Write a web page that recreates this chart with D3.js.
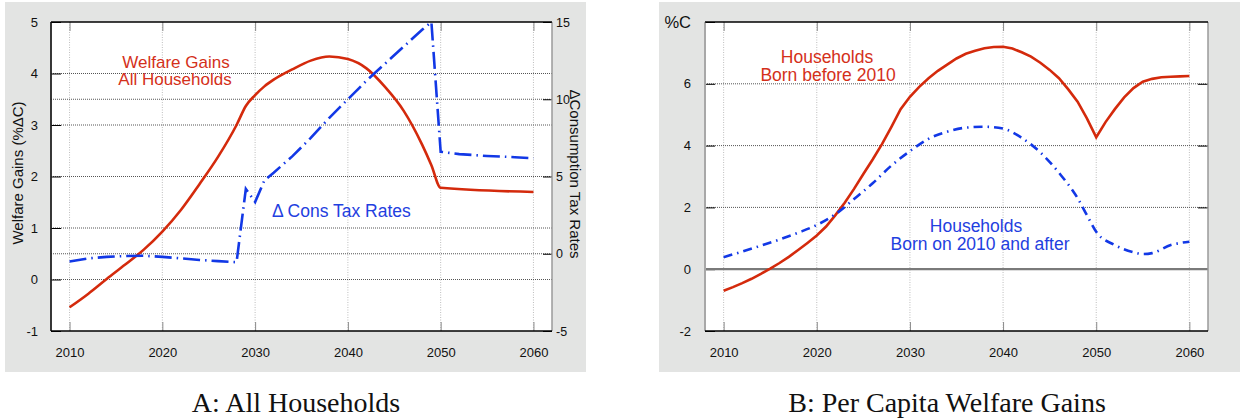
<!DOCTYPE html>
<html lang="en">
<head>
<meta charset="UTF-8">
<title>Welfare Gains</title>
<script src="https://cdn.jsdelivr.net/npm/d3@7"></script>
<style>
    body{ margin:0; background:#fff; }
    svg text{ font-family:"Liberation Sans", Arial, sans-serif; fill:#111; }
    svg text.caption{ font-family:"Liberation Serif", "Times New Roman", serif; font-size:28px; fill:#111; }
    .grid-h{ stroke:#555; stroke-dasharray:1,1; }
    .grid-v{ stroke:#bdbdbd; stroke-dasharray:1,1.5; }
    .axis path{ display:none; }
    .axis line{ stroke:#000; }
    .axis.x line{ stroke:#8a8a8a; }
    .red{ fill:none; stroke:#d42a0c; stroke-width:2.6; }
    .blue{ fill:none; stroke:#1238e6; stroke-width:2.6; }
</style>
</head>
<body>
<svg width="1247" height="420"></svg>
<script>
// ---- data ----
var xTicks = [2010, 2020, 2030, 2040, 2050, 2060];

// panel A, left axis: welfare gains of all households (%dC)
var yearsAllHh = [2010, 2012, 2014, 2016, 2018, 2020, 2022, 2024, 2026, 2028, 2029, 2030, 2031, 2032, 2034, 2036, 2038, 2040, 2042, 2044, 2046, 2048, 2049, 2050, 2060];
var welfareAllHh = [-0.54, -0.28, 0.01, 0.29, 0.58, 0.93, 1.35, 1.85, 2.38, 3.00, 3.37, 3.58, 3.75, 3.88, 4.08, 4.25, 4.33, 4.28, 4.10, 3.74, 3.28, 2.62, 2.22, 1.78, 1.70];

// panel A, right axis: change in consumption tax rates
var yearsTax = [2010, 2012, 2014, 2016, 2018, 2020, 2022, 2024, 2026, 2028, 2029, 2030, 2031, 2032, 2034, 2036, 2038, 2040, 2042, 2044, 2046, 2048, 2049, 2050, 2052, 2055, 2058, 2060];
var consTax = [-0.50, -0.30, -0.20, -0.15, -0.13, -0.20, -0.30, -0.40, -0.48, -0.55, 4.20, 3.35, 4.75, 5.25, 6.30, 7.50, 8.80, 10.0, 11.2, 12.3, 13.4, 14.5, 15.0, 6.60, 6.45, 6.33, 6.25, 6.18];

var leftTicksA = [-1, 0, 1, 2, 3, 4, 5];
var rightTicksA = [-5, 0, 5, 10, 15];

// panel B: per capita welfare gains (%C)
var yearsBefore = d3.range(2010, 2061);
var bornBefore = [-0.70, -0.58, -0.45, -0.31, -0.15, 0.02, 0.20, 0.40, 0.62, 0.85,
                  1.09, 1.38, 1.75, 2.15, 2.60, 3.08, 3.55, 4.05, 4.60, 5.18,
                  5.58, 5.90, 6.18, 6.42, 6.62, 6.82, 6.97, 7.07, 7.15, 7.19,
                  7.20, 7.14, 7.02, 6.88, 6.68, 6.45, 6.18, 5.82, 5.42, 4.88,
                  4.27, 4.76, 5.18, 5.56, 5.86, 6.07, 6.16, 6.21, 6.23, 6.24, 6.25];
var yearsAfter = [2010, 2012, 2014, 2016, 2018, 2020, 2022, 2024, 2026, 2028, 2030, 2032, 2034, 2036, 2038, 2040, 2042, 2044, 2046, 2048, 2049, 2050, 2052, 2054, 2055, 2056, 2058, 2060];
var bornAfter = [0.39, 0.57, 0.76, 0.96, 1.18, 1.43, 1.78, 2.27, 2.78, 3.35, 3.82, 4.22, 4.45, 4.58, 4.61, 4.55, 4.25, 3.78, 3.12, 2.30, 1.75, 1.21, 0.78, 0.55, 0.49, 0.52, 0.78, 0.89];

var ticksB = [-2, 0, 2, 4, 6, 8];

// ---- layout ----
var svg = d3.select("svg");
var plotTop = 22, plotBottom = 331;
var plain = function(d){ return String(d); };   // hyphen minus like the original

function panelFrame(bx, bw, left, right){
    svg.append("rect").attr("x", bx).attr("y", 2).attr("width", bw).attr("height", 370).attr("fill", "#e3e4e3");
    svg.append("rect").attr("x", left).attr("y", plotTop).attr("width", right - left).attr("height", plotBottom - plotTop).attr("fill", "#fff");
}

function vGrid(g, x){
    g.selectAll(null).data(xTicks).enter().append("line")
        .attr("class", "grid-v")
        .attr("x1", function(d){ return x(d); }).attr("x2", function(d){ return x(d); })
        .attr("y1", plotTop).attr("y2", plotBottom);
}
function hGrid(g, y, vals, x0, x1){
    g.selectAll(null).data(vals).enter().append("line")
        .attr("class", "grid-h")
        .attr("x1", x0).attr("x2", x1)
        .attr("y1", function(d){ return y(d); }).attr("y2", function(d){ return y(d); });
}
function borders(g, left, right, leftCol, leftW){
    g.append("line").attr("x1", right).attr("x2", right).attr("y1", plotTop).attr("y2", plotBottom).attr("stroke", "#9a9a9a").attr("stroke-width", 1.5);
    g.append("line").attr("x1", left).attr("x2", left).attr("y1", plotTop).attr("y2", plotBottom).attr("stroke", leftCol).attr("stroke-width", leftW);
    g.append("line").attr("x1", left).attr("x2", right).attr("y1", plotTop).attr("y2", plotTop).attr("stroke", "#000").attr("stroke-width", 1.5);
    g.append("line").attr("x1", left).attr("x2", right).attr("y1", plotBottom).attr("y2", plotBottom).attr("stroke", "#000").attr("stroke-width", 1.5);
}
function xAxis(g, x){
    g.append("g").attr("class", "axis x")
        .attr("transform", "translate(0," + plotBottom + ")")
        .call(d3.axisBottom(x).tickValues(xTicks).tickSize(-9).tickPadding(17).tickFormat(plain))
        .selectAll("text").attr("font-size", 13).attr("font-family", null);
    g.append("g").attr("class", "axis x")
        .attr("transform", "translate(0," + plotTop + ")")
        .call(d3.axisTop(x).tickValues(xTicks).tickSize(-9).tickFormat(""));
}

// ================= panel A =================
var aL = 51, aR = 552;
panelFrame(5, 581, aL, aR);
var gA = svg.append("g");

var xA = d3.scaleLinear().domain([2008, 2062]).range([aL, aR]);
var yA = d3.scaleLinear().domain([-1, 5]).range([plotBottom, plotTop]);
var yA2 = d3.scaleLinear().domain([-5, 15]).range([plotBottom, plotTop]);

vGrid(gA, xA);
hGrid(gA, yA, [0, 1, 2, 3, 4], aL, aR);
hGrid(gA, yA2, [0, 5, 10], aL, aR);
xAxis(gA, xA);

gA.append("g").attr("class", "axis")
    .attr("transform", "translate(" + aL + ",0)")
    .call(d3.axisLeft(yA).tickValues(leftTicksA).tickSize(-10).tickPadding(13).tickFormat(plain))
    .selectAll("text").attr("font-size", 13).attr("font-family", null);
gA.append("g").attr("class", "axis")
    .attr("transform", "translate(" + aR + ",0)")
    .call(d3.axisRight(yA2).tickValues(rightTicksA).tickSize(-9).tickPadding(4).tickFormat(plain))
    .selectAll("text").attr("font-size", 12.5).attr("font-family", null);

borders(gA, aL, aR, "#222", 1.8);

var lineWelfare = d3.line()
    .x(function(d, i){ return xA(yearsAllHh[i]); })
    .y(function(d){ return yA(d); })
    .curve(d3.curveMonotoneX);
gA.append("path").datum(welfareAllHh).attr("class", "red").attr("d", lineWelfare);

var lineTax = d3.line()
    .x(function(d, i){ return xA(yearsTax[i]); })
    .y(function(d){ return yA2(d); });
gA.append("path").datum(consTax).attr("class", "blue")
    .attr("stroke-dasharray", "17,5,1.5,5").attr("d", lineTax);

gA.append("text").attr("x", 176).attr("y", 68).attr("text-anchor", "middle")
    .attr("font-size", 17).style("fill", "#d4301a").text("Welfare Gains");
gA.append("text").attr("x", 175).attr("y", 85).attr("text-anchor", "middle")
    .attr("font-size", 17).style("fill", "#d4301a").text("All Households");
gA.append("text").attr("x", 272).attr("y", 217)
    .attr("font-size", 17.5).style("fill", "#1f40e0").text("\u0394 Cons Tax Rates");

gA.append("text").attr("transform", "translate(23,173) rotate(-90)").attr("text-anchor", "middle")
    .attr("font-size", 15).text("Welfare Gains (%\u0394C)");
gA.append("text").attr("transform", "translate(570,174) rotate(90)").attr("text-anchor", "middle")
    .attr("font-size", 15).text("\u0394Consumption Tax Rates");

svg.append("text").attr("class", "caption").attr("x", 296).attr("y", 412)
    .attr("text-anchor", "middle").text("A: All Households");

// ================= panel B =================
var bL = 705, bR = 1208;
panelFrame(659, 581, bL, bR);
var gB = svg.append("g");

var xB = d3.scaleLinear().domain([2008, 2062]).range([bL, bR]);
var yB = d3.scaleLinear().domain([-2, 8]).range([plotBottom, plotTop]);

vGrid(gB, xB);
hGrid(gB, yB, [2, 4, 6], bL, bR);
xAxis(gB, xB);

var axB = gB.append("g").attr("class", "axis")
    .attr("transform", "translate(" + bL + ",0)")
    .call(d3.axisLeft(yB).tickValues(ticksB).tickSize(-10).tickPadding(14)
        .tickFormat(function(d){ return d === 8 ? "%C" : String(d); }));
axB.selectAll("text").attr("font-size", 13).attr("font-family", null);
axB.selectAll(".tick").filter(function(d){ return d === 8; }).select("text").attr("font-size", 16.5);
gB.append("g").attr("class", "axis")
    .attr("transform", "translate(" + bR + ",0)")
    .call(d3.axisRight(yB).tickValues([2, 4, 6]).tickSize(-10).tickFormat(""));

gB.append("line").attr("x1", bL).attr("x2", bR).attr("y1", yB(0)).attr("y2", yB(0))
    .attr("stroke", "#7a7a7a").attr("stroke-width", 2.2);

borders(gB, bL, bR, "#a8a8a8", 2);

var lineBefore = d3.line()
    .x(function(d, i){ return xB(yearsBefore[i]); })
    .y(function(d){ return yB(d); });
gB.append("path").datum(bornBefore).attr("class", "red").attr("d", lineBefore);

var lineAfter = d3.line()
    .x(function(d, i){ return xB(yearsAfter[i]); })
    .y(function(d){ return yB(d); })
    .curve(d3.curveMonotoneX);
gB.append("path").datum(bornAfter).attr("class", "blue")
    .attr("stroke-dasharray", "9,5,1.5,5").attr("d", lineAfter);

gB.append("text").attr("x", 827).attr("y", 63).attr("text-anchor", "middle")
    .attr("font-size", 17.5).style("fill", "#d4301a").text("Households");
gB.append("text").attr("x", 828).attr("y", 81).attr("text-anchor", "middle")
    .attr("font-size", 17.5).style("fill", "#d4301a").text("Born before 2010");
gB.append("text").attr("x", 976).attr("y", 232).attr("text-anchor", "middle")
    .attr("font-size", 17.5).style("fill", "#1f40e0").text("Households");
gB.append("text").attr("x", 980).attr("y", 250).attr("text-anchor", "middle")
    .attr("font-size", 17.5).style("fill", "#1f40e0").text("Born on 2010 and after");

svg.append("text").attr("class", "caption").attr("x", 947).attr("y", 412)
    .attr("text-anchor", "middle").text("B: Per Capita Welfare Gains");
</script>
</body>
</html>
